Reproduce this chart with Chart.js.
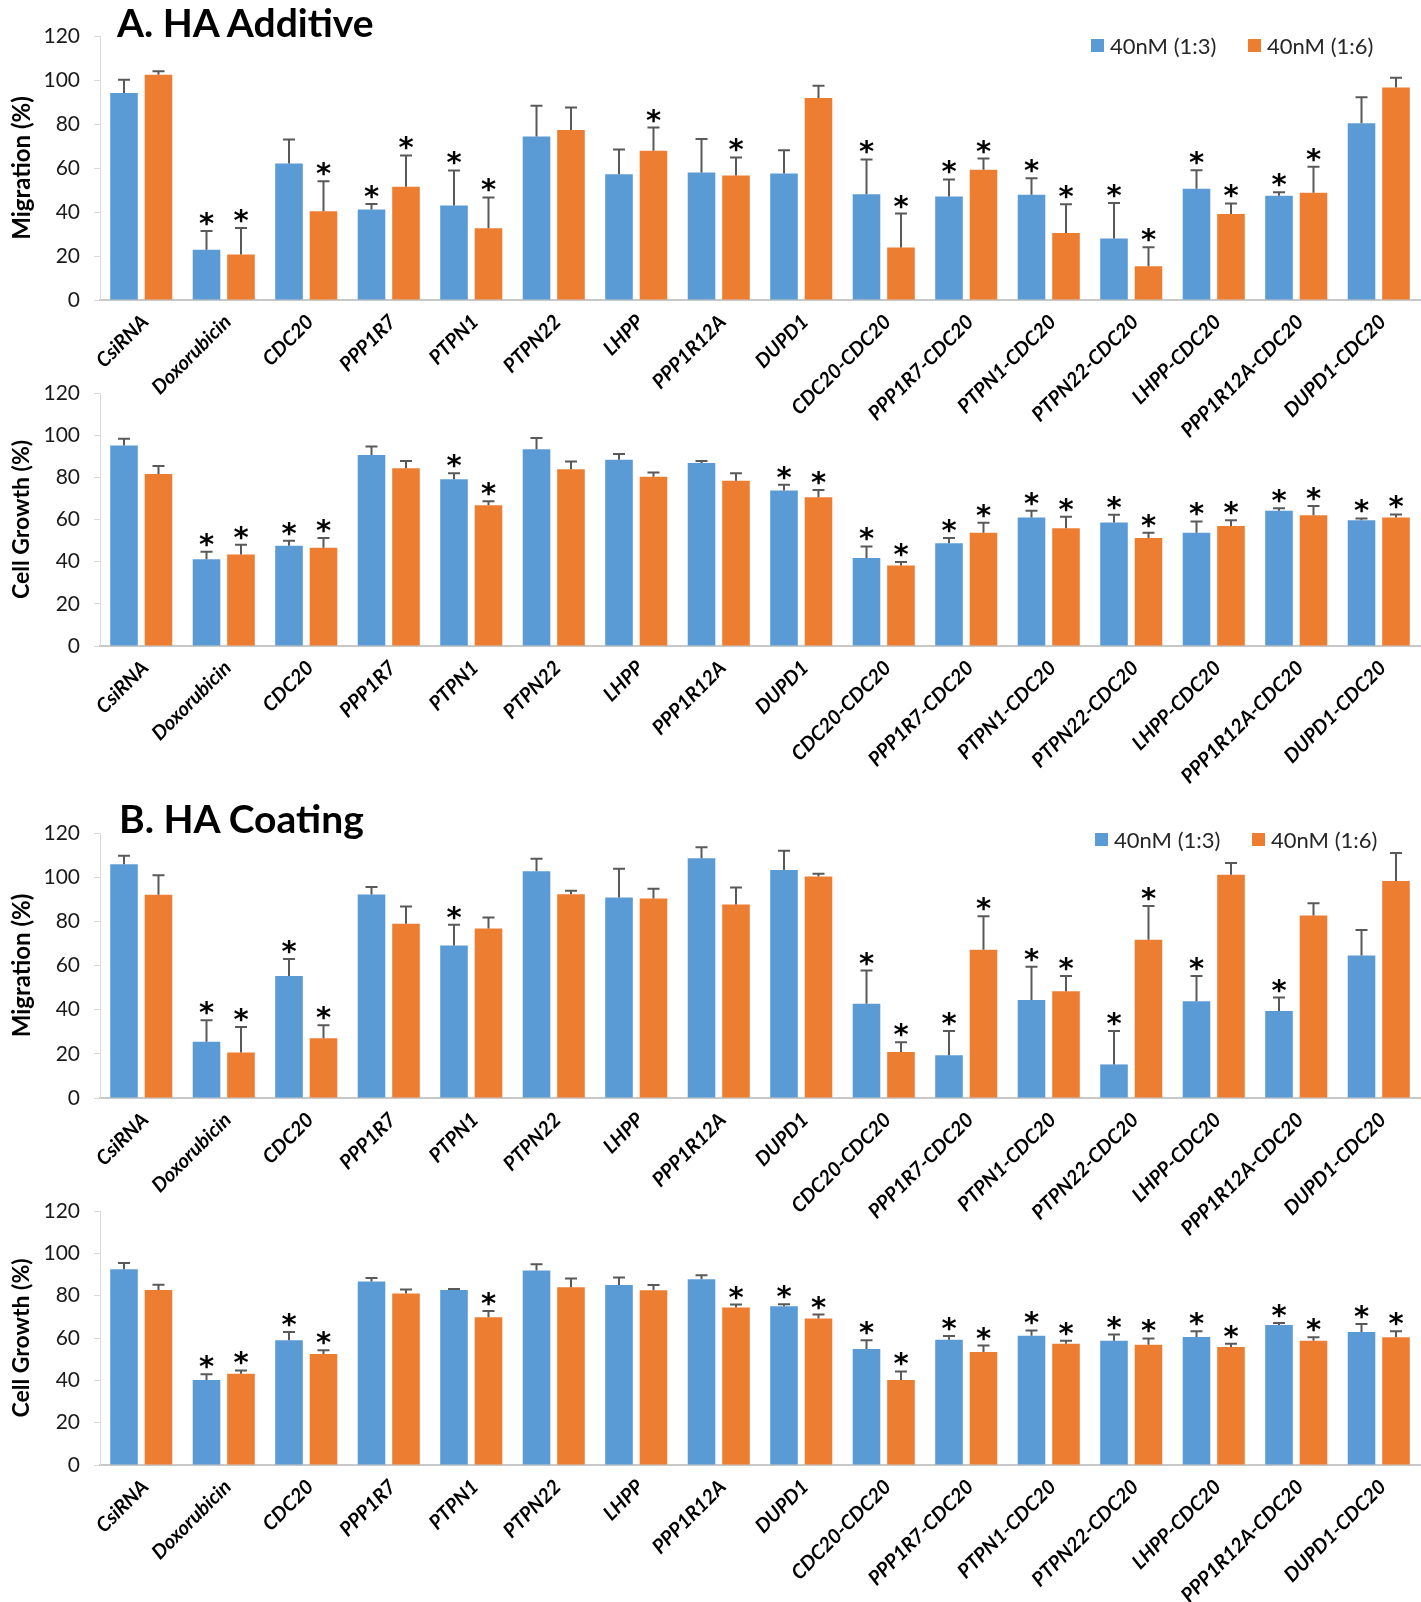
<!DOCTYPE html>
<html>
<head>
<meta charset="utf-8">
<script src="https://cdn.jsdelivr.net/npm/chart.js@4.4.1/dist/chart.umd.min.js"></script>
<style>
  html, body { margin: 0; padding: 0; background: #fff; }
  #page { position: relative; width: 1421px; height: 1602px; overflow: hidden; font-family: Lato, "Open Sans", sans-serif; }
  canvas.panel { position: absolute; left: 0; }
  .heading { position: absolute; font-weight: 700; font-size: 39px; color: #000; line-height: 1; white-space: nowrap; }
  .legend-item { position: absolute; display: flex; align-items: center; font-size: 22px; color: #262626; white-space: nowrap; }
  .legend-item span.sw { display: inline-block; width: 13px; height: 13px; margin-right: 6px; }
</style>
</head>
<body>
<div id="page">
  <canvas id="aMig" class="panel" width="1421" height="440" style="top:0px"></canvas>
  <canvas id="aGrow" class="panel" width="1421" height="430" style="top:360px"></canvas>
  <canvas id="bMig" class="panel" width="1421" height="450" style="top:790px"></canvas>
  <canvas id="bGrow" class="panel" width="1421" height="432" style="top:1170px"></canvas>

  <div class="heading" style="left:117px; top:3px;">A. HA Additive</div>
  <div class="heading" style="left:119px; top:799px;">B. HA Coating</div>

  <div class="legend-item" style="left:1091px; top:32px;"><span class="sw" style="background:#5B9BD5"></span>40nM (1:3)</div>
  <div class="legend-item" style="left:1248px; top:32px;"><span class="sw" style="background:#ED7D31"></span>40nM (1:6)</div>
  <div class="legend-item" style="left:1095px; top:826px;"><span class="sw" style="background:#5B9BD5"></span>40nM (1:3)</div>
  <div class="legend-item" style="left:1252px; top:826px;"><span class="sw" style="background:#ED7D31"></span>40nM (1:6)</div>
</div>

<script>
// Treatment groups along the x axis
const categories = ['CsiRNA', 'Doxorubicin', 'CDC20', 'PPP1R7', 'PTPN1', 'PTPN22', 'LHPP', 'PPP1R12A', 'DUPD1',
  'CDC20-CDC20', 'PPP1R7-CDC20', 'PTPN1-CDC20', 'PTPN22-CDC20', 'LHPP-CDC20', 'PPP1R12A-CDC20', 'DUPD1-CDC20'];
const seriesNames = ['40nM (1:3)', '40nM (1:6)'];
const yTicks = [0, 20, 40, 60, 80, 100, 120];

// A. HA Additive – migration (%)
const aMigMean13 = [94.1, 22.8, 62.0, 41.1, 43.0, 74.3, 57.2, 58.0, 57.5, 48.1, 47.0, 47.8, 27.9, 50.6, 47.4, 80.3];
const aMigSd13   = [6.0, 8.6, 10.9, 2.5, 15.9, 14.0, 11.2, 15.2, 10.6, 15.8, 7.8, 7.5, 16.2, 8.4, 1.6, 11.9];
const aMigMean16 = [102.4, 20.7, 40.3, 51.5, 32.6, 77.3, 67.8, 56.6, 91.8, 23.9, 59.2, 30.5, 15.3, 39.1, 48.8, 96.6];
const aMigSd16   = [1.6, 12.0, 13.7, 14.2, 14.0, 10.2, 10.6, 8.2, 5.6, 15.4, 5.1, 13.0, 8.7, 4.8, 11.8, 4.4];
const aMigSig13  = [0, 1, 0, 1, 1, 0, 0, 0, 0, 1, 1, 1, 1, 1, 1, 0];
const aMigSig16  = [0, 1, 1, 1, 1, 0, 1, 1, 0, 1, 1, 1, 1, 1, 1, 0];

// A. HA Additive – cell growth (%)
const aGrowMean13 = [95.1, 41.2, 47.5, 90.6, 79.1, 93.3, 88.3, 86.8, 73.7, 41.7, 48.7, 60.9, 58.6, 53.7, 64.2, 59.6];
const aGrowSd13   = [3.2, 3.5, 2.4, 4.0, 2.8, 5.4, 2.8, 1.0, 2.8, 5.5, 2.5, 3.3, 3.7, 5.4, 1.1, 0.9];
const aGrowMean16 = [81.6, 43.4, 46.6, 84.3, 66.7, 83.8, 80.3, 78.4, 70.5, 38.2, 53.7, 55.9, 51.2, 56.9, 62.0, 60.9];
const aGrowSd16   = [3.8, 4.6, 4.6, 3.5, 1.9, 3.7, 2.0, 3.5, 3.5, 1.7, 4.8, 5.4, 2.5, 2.8, 4.4, 1.5];
const aGrowSig13  = [0, 1, 1, 0, 1, 0, 0, 0, 1, 1, 1, 1, 1, 1, 1, 1];
const aGrowSig16  = [0, 1, 1, 0, 1, 0, 0, 0, 1, 1, 1, 1, 1, 1, 1, 1];

// B. HA Coating – migration (%)
const bMigMean13 = [105.9, 25.5, 55.3, 92.1, 69.1, 102.7, 90.8, 108.6, 103.2, 42.7, 19.4, 44.4, 15.2, 43.8, 39.4, 64.5];
const bMigSd13   = [3.8, 9.7, 7.6, 3.4, 9.4, 5.6, 13.0, 5.0, 8.8, 15.0, 10.9, 15.0, 15.1, 11.4, 6.1, 11.6];
const bMigMean16 = [92.0, 20.6, 27.1, 78.9, 76.8, 92.3, 90.3, 87.6, 100.3, 20.8, 67.1, 48.3, 71.7, 101.1, 82.6, 98.3];
const bMigSd16   = [8.9, 11.5, 5.9, 7.8, 4.9, 1.6, 4.5, 7.7, 1.2, 4.5, 15.2, 7.0, 15.3, 5.3, 5.6, 12.7];
const bMigSig13  = [0, 1, 1, 0, 1, 0, 0, 0, 0, 1, 1, 1, 1, 1, 1, 0];
const bMigSig16  = [0, 1, 1, 0, 0, 0, 0, 0, 0, 1, 1, 1, 1, 0, 0, 0];

// B. HA Coating – cell growth (%)
const bGrowMean13 = [92.5, 40.1, 58.9, 86.7, 82.7, 91.9, 85.0, 87.8, 75.0, 54.8, 59.2, 61.1, 58.7, 60.5, 66.2, 62.8];
const bGrowSd13   = [2.9, 2.8, 3.9, 1.7, 0.5, 3.0, 3.6, 1.9, 1.0, 4.1, 1.8, 2.5, 2.9, 2.7, 0.9, 3.8];
const bGrowMean16 = [82.7, 43.1, 52.4, 81.0, 69.8, 84.0, 82.6, 74.4, 69.2, 40.1, 53.4, 57.3, 56.8, 55.7, 58.7, 60.3];
const bGrowSd16   = [2.4, 1.6, 1.8, 1.9, 3.0, 4.1, 2.4, 1.4, 1.9, 4.1, 3.0, 1.4, 3.0, 1.6, 1.6, 2.9];
const bGrowSig13  = [0, 1, 1, 0, 0, 0, 0, 0, 1, 1, 1, 1, 1, 1, 1, 1];
const bGrowSig16  = [0, 1, 1, 0, 1, 0, 0, 1, 1, 1, 1, 1, 1, 1, 1, 1];

const BLUE = '#5B9BD5';
const ORANGE = '#ED7D31';
const FONT = 'Lato, "Open Sans", sans-serif';

// Upper error whiskers with caps, plus significance asterisks above them
const errorBarPlugin = {
  id: 'errorBars',
  afterDatasetsDraw(chart) {
    const ctx = chart.ctx;
    const yScale = chart.scales.y;
    chart.data.datasets.forEach((ds, di) => {
      const meta = chart.getDatasetMeta(di);
      meta.data.forEach((bar, i) => {
        const top = yScale.getPixelForValue(ds.data[i] + ds.sd[i]);
        ctx.save();
        ctx.strokeStyle = '#595959';
        ctx.lineWidth = 2;
        ctx.beginPath();
        ctx.moveTo(bar.x, bar.y);
        ctx.lineTo(bar.x, top);
        ctx.moveTo(bar.x - 6, top);
        ctx.lineTo(bar.x + 6, top);
        ctx.stroke();
        if (ds.sig[i]) {
          ctx.fillStyle = '#000';
          ctx.font = 'bold 29px "DejaVu Sans", sans-serif';
          ctx.textAlign = 'center';
          ctx.textBaseline = 'alphabetic';
          ctx.fillText('*', bar.x, top + 2);
        }
        ctx.restore();
      });
    });
  }
};

function makeChart(id, title, titleSize, mean13, sd13, sig13, mean16, sd16, sig16, padTop, xHeight) {
  return new Chart(document.getElementById(id), {
    type: 'bar',
    data: {
      labels: categories,
      datasets: [
        { label: seriesNames[0], data: mean13, sd: sd13, sig: sig13, backgroundColor: BLUE,
          categoryPercentage: 0.836, barPercentage: 0.8 },
        { label: seriesNames[1], data: mean16, sd: sd16, sig: sig16, backgroundColor: ORANGE,
          categoryPercentage: 0.836, barPercentage: 0.8 }
      ]
    },
    options: {
      responsive: false,
      animation: false,
      devicePixelRatio: 1,
      layout: { padding: { top: padTop, right: 1, left: 0, bottom: 0 } },
      plugins: { legend: { display: false }, tooltip: { enabled: false } },
      scales: {
        x: {
          grid: { display: false, drawTicks: false },
          border: { display: true, color: '#C8C8C8', width: 2 },
          ticks: {
            maxRotation: 45, minRotation: 45, autoSkip: false, padding: 10, labelOffset: 4,
            color: '#000', font: { family: FONT, size: 20, weight: 'bold', style: 'italic' }
          },
          afterFit(scale) { scale.height = xHeight; }
        },
        y: {
          min: 0, max: 120,
          afterBuildTicks(scale) { scale.ticks = yTicks.map(v => ({ value: v })); },
          grid: { drawOnChartArea: false, drawTicks: true, tickLength: 6, color: '#D9D9D9' },
          border: { display: true, color: '#D9D9D9', width: 1 },
          ticks: { padding: 14, color: '#1a1a1a', font: { family: FONT, size: 21 } },
          title: {
            display: true, text: title, color: '#000',
            font: { family: FONT, size: titleSize, weight: 'bold' },
            padding: { top: 8, bottom: 0 }
          },
          afterFit(scale) { scale.width = 100; }
        }
      }
    },
    plugins: [errorBarPlugin]
  });
}

makeChart('aMig', 'Migration (%)', 24, aMigMean13, aMigSd13, aMigSig13, aMigMean16, aMigSd16, aMigSig16, 36, 140);
makeChart('aGrow', 'Cell Growth (%)', 23, aGrowMean13, aGrowSd13, aGrowSig13, aGrowMean16, aGrowSd16, aGrowSig16, 33, 144);
makeChart('bMig', 'Migration (%)', 24, bMigMean13, bMigSd13, bMigSig13, bMigMean16, bMigSd16, bMigSig16, 43, 142);
makeChart('bGrow', 'Cell Growth (%)', 23, bGrowMean13, bGrowSd13, bGrowSig13, bGrowMean16, bGrowSd16, bGrowSig16, 41, 137);
</script>
</body>
</html>
